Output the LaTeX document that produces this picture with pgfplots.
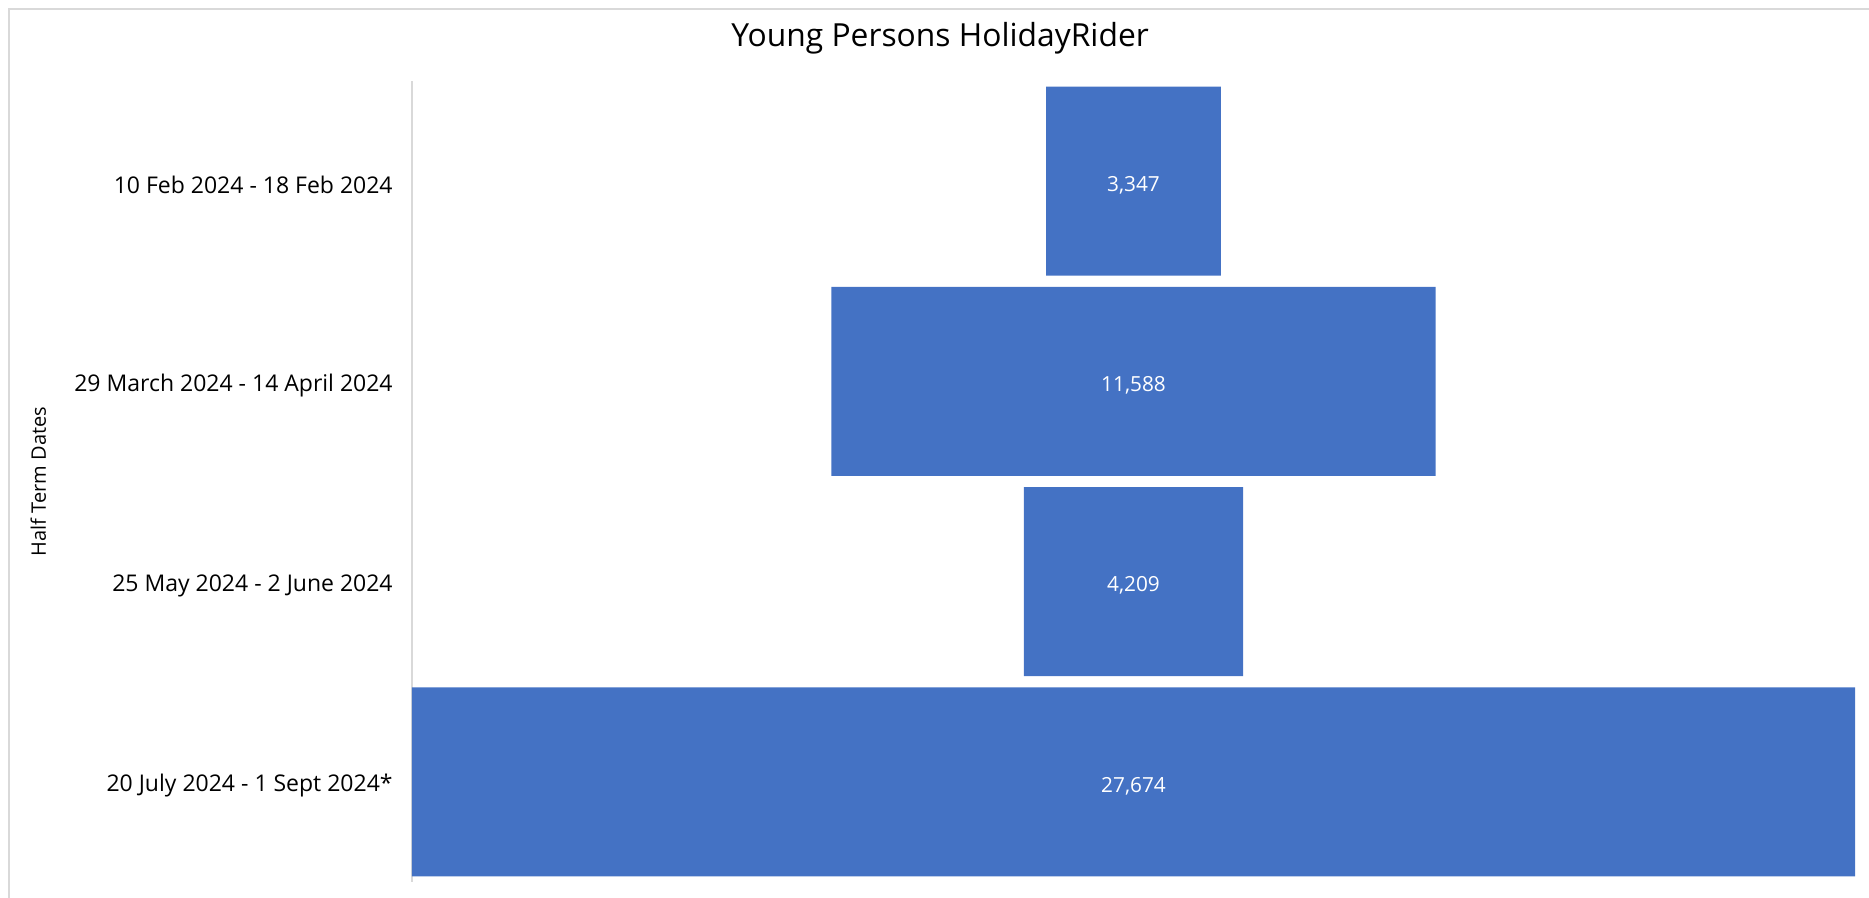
\documentclass[border=0pt]{standalone}
\usepackage{pgfplots}
\pgfplotsset{compat=1.18}
\usepackage{fontspec}
\setmainfont{Open Sans}
\definecolor{barblue}{HTML}{4472C4}
\definecolor{linegray}{HTML}{D9D9D9}
\begin{document}
\begin{tikzpicture}[x=1pt,y=1pt]
\path[use as bounding box] (0,0) rectangle (934.5,449);
\draw[linegray, line width=1pt] (4.5,0) -- (4.5,444.5) -- (934.5,444.5);
\begin{axis}[
  at={(206pt,8pt)}, anchor=south west,
  width=721.5pt, height=400.5pt, scale only axis,
  xmin=0, xmax=27674, ymin=-0.5, ymax=3.5, y dir=reverse,
  xbar stacked, bar width=0.944,
  axis x line=none, axis y line*=left,
  y axis line style={linegray, line width=0.75pt},
  ytick={0,1,2,3},
  yticklabels={10 Feb 2024 - 18 Feb 2024, 29 March 2024 - 14 April 2024, 25 May 2024 - 2 June 2024, 20 July 2024 - 1 Sept 2024*},
  major tick length=0pt,
  yticklabel style={font=\fontsize{11.5}{13}\selectfont, text=black, inner sep=0pt, xshift=-9.5pt, yshift=-2pt},
  ylabel={Half Term Dates},
  ylabel style={at={(axis description cs:-0.259,0.5)}, anchor=center, font=\fontsize{10}{12}\selectfont},
  title={Young Persons HolidayRider},
  title style={at={(axis description cs:0.366,1.0287)}, anchor=base, font=\fontsize{15.9}{18}\selectfont},
]
\addplot[draw=none, fill=none] coordinates {(12163.5,0) (8043,1) (11732.5,2) (0,3)};
\addplot[draw=none, fill=barblue] coordinates {(3347,0) (11588,1) (4209,2) (27674,3)};
\end{axis}
\begin{axis}[
  at={(206pt,8pt)}, anchor=south west,
  width=721.5pt, height=400.5pt, scale only axis,
  xmin=0, xmax=27674, ymin=-0.5, ymax=3.5, y dir=reverse,
  hide axis,
]
\addplot[draw=none, mark=none, nodes near coords, point meta=explicit,
  nodes near coords align={center},
  every node near coord/.append style={anchor=center, yshift=-2pt, text=white, font=\fontsize{10.4}{12}\selectfont,
    /pgf/number format/assume math mode=true, /pgf/number format/1000 sep={,}}]
  coordinates {(13837,0) [3347] (13837,1) [11588] (13837,2) [4209] (13837,3) [27674]};
\end{axis}
\end{tikzpicture}
\end{document}
